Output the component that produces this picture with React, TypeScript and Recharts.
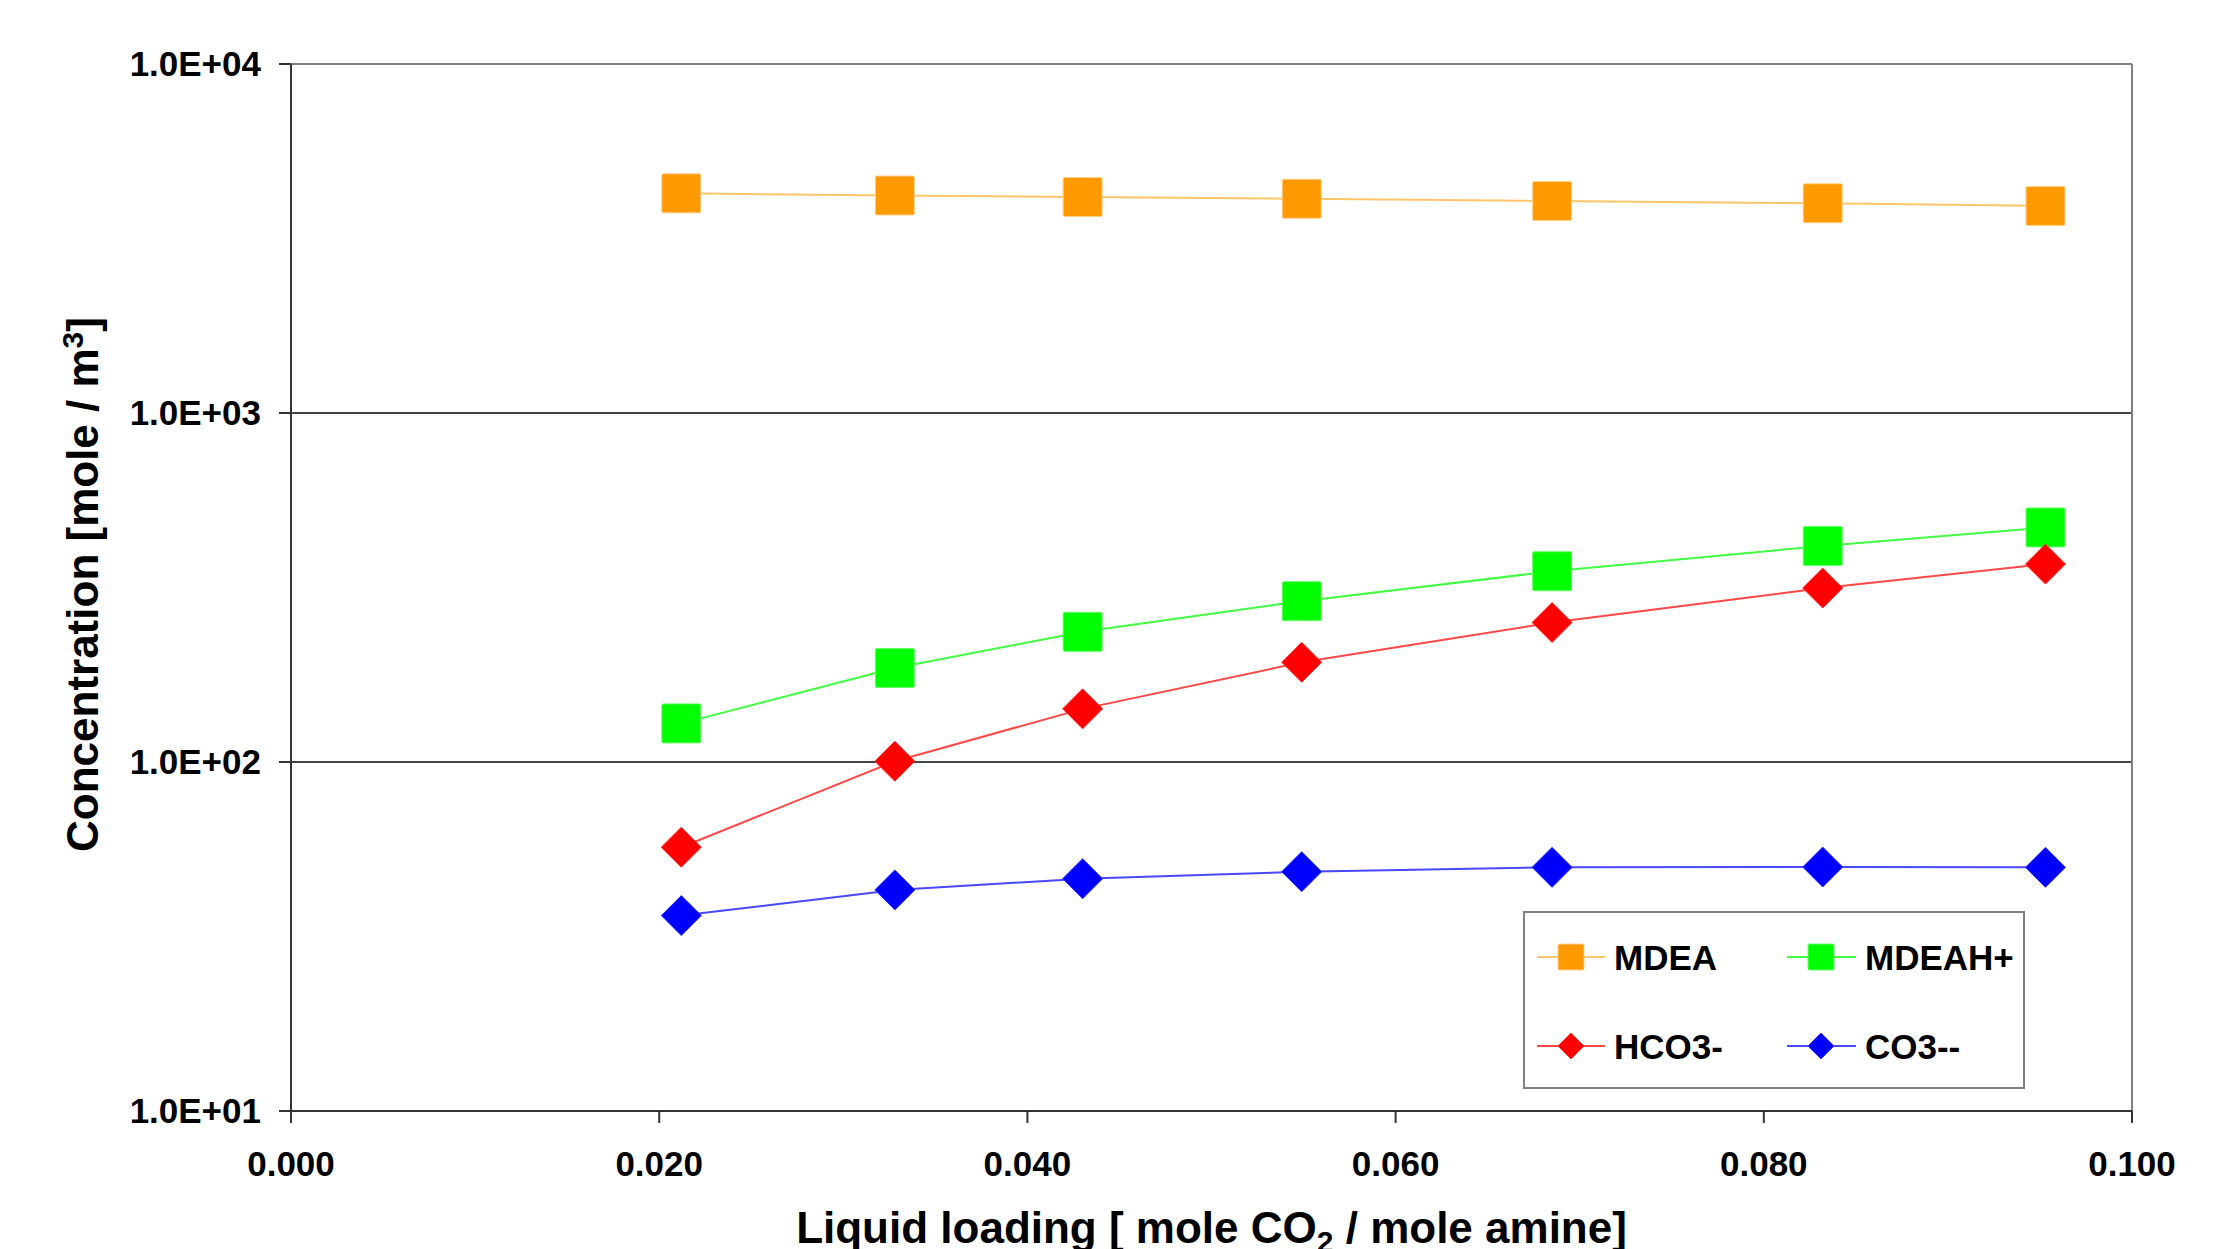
import React from "react";
import { LineChart, Line, XAxis, YAxis, ReferenceLine, Legend } from "recharts";

const loading = [0.0212, 0.0328, 0.043, 0.0549, 0.0685, 0.0832, 0.0953];
const mdea = [4260, 4200, 4160, 4110, 4050, 3990, 3920];
const mdeah = [129, 186, 236, 289, 352, 416, 470];
const hco3 = [57, 100.5, 142, 193, 251, 315, 369];
const co3 = [36.3, 43.0, 46.3, 48.5, 49.9, 50.0, 49.9];

const xTicks = [0, 0.02, 0.04, 0.06, 0.08, 0.1];
const yTicks = [10, 100, 1000, 10000];

const data = loading.map((x, i) => ({
  x,
  mdea: mdea[i],
  mdeah: mdeah[i],
  hco3: hco3[i],
  co3: co3[i],
}));

type Series = {
  key: string;
  name: string;
  line: string;
  fill: string;
  edge: string;
  shape: "square" | "diamond";
};

const series: Series[] = [
  { key: "mdea", name: "MDEA", line: "#FFC56A", fill: "#FF9900", edge: "#FFD08A", shape: "square" },
  { key: "mdeah", name: "MDEAH+", line: "#40FF40", fill: "#00FF00", edge: "#66FF66", shape: "square" },
  { key: "hco3", name: "HCO3-", line: "#FF4848", fill: "#FF0000", edge: "#FF3030", shape: "diamond" },
  { key: "co3", name: "CO3--", line: "#4848FF", fill: "#0000FF", edge: "#3030FF", shape: "diamond" },
];

const FONT = "'Liberation Sans', Arial, Helvetica, sans-serif";

function Marker({ cx, cy, s, size }: { cx: number; cy: number; s: Series; size: number }) {
  const h = size / 2;
  if (s.shape === "square") {
    return (
      <rect x={cx - h} y={cy - h} width={size} height={size} rx={1.5} fill={s.fill} stroke={s.edge} strokeWidth={1} />
    );
  }
  return (
    <polygon
      points={`${cx},${cy - h} ${cx + h},${cy} ${cx},${cy + h} ${cx - h},${cy}`}
      fill={s.fill}
      stroke={s.edge}
      strokeWidth={1}
    />
  );
}

const fmtY = (v: number) => {
  const e = Math.round(Math.log10(v));
  return `1.0E+${e < 10 ? "0" + e : e}`;
};

const LegendBox = () => {
  const rows = [46, 135];
  const cols = [{ l0: 14, l1: 82, m: 48, t: 91 }, { l0: 264, l1: 333, m: 298, t: 342 }];
  return (
    <svg width={502} height={178} style={{ display: "block" }}>
      <rect x={1} y={1} width={500} height={176} fill="#fff" stroke="#808080" strokeWidth={2} />
      {series.map((s, i) => {
        const r = rows[Math.floor(i / 2)];
        const c = cols[i % 2];
        return (
          <g key={s.key}>
            <line x1={c.l0} x2={c.l1} y1={r} y2={r} stroke={s.line} strokeWidth={2} />
            <Marker cx={c.m} cy={r} s={s} size={26} />
            <text x={c.t} y={r + 13} fontFamily={FONT} fontWeight="bold" fontSize={35} fill="#000">
              {s.name}
            </text>
          </g>
        );
      })}
    </svg>
  );
};

const XTitle = (props: any) => {
  const vb = props.viewBox || {};
  const cx = vb.x + vb.width / 2;
  const y = vb.y + 132;
  return (
    <text x={cx} y={y} textAnchor="middle" fontFamily={FONT} fontWeight="bold" fontSize={44} fill="#000">
      Liquid loading [ mole CO
      <tspan dy={9} fontSize={30}>2</tspan>
      <tspan dy={-9}> / mole amine]</tspan>
    </text>
  );
};

const YTitle = (props: any) => {
  const vb = props.viewBox || {};
  const x = vb.x + 98;
  const y = vb.y + vb.height / 2 - 3;
  return (
    <text
      x={x}
      y={y}
      textAnchor="middle"
      transform={`rotate(-90, ${x}, ${y})`}
      fontFamily={FONT}
      fontWeight="bold"
      fontSize={44}
      fill="#000"
    >
      Concentration [mole / m
      <tspan dy={-15} fontSize={30}>3</tspan>
      <tspan dy={15}>]</tspan>
    </text>
  );
};

export default function App() {
  return (
    <div style={{ position: "absolute", left: 0, top: 0, width: 2220, height: 1249, background: "#fff", overflow: "hidden" }}>
      <LineChart
        width={2220}
        height={1249}
        data={data}
        margin={{ top: 64, right: 88, bottom: 0, left: 0 }}
        style={{ fontFamily: FONT }}
      >
        <XAxis
          dataKey="x"
          type="number"
          domain={[0, 0.1]}
          ticks={xTicks}
          tickFormatter={(v: number) => v.toFixed(3)}
          height={138}
          tickSize={12}
          tickMargin={28}
          axisLine={{ stroke: "#333", strokeWidth: 2 }}
          tickLine={{ stroke: "#333", strokeWidth: 2 }}
          tick={{ fill: "#000", fontSize: 35, fontWeight: "bold", fontFamily: FONT }}
          label={<XTitle />}
          allowDataOverflow
        />
        <YAxis
          type="number"
          scale="log"
          domain={[10, 10000]}
          ticks={yTicks}
          tickFormatter={fmtY}
          width={291}
          tickSize={12}
          tickMargin={18}
          axisLine={{ stroke: "#333", strokeWidth: 2 }}
          tickLine={{ stroke: "#333", strokeWidth: 2 }}
          tick={{ fill: "#000", fontSize: 35, fontWeight: "bold", fontFamily: FONT }}
          label={<YTitle />}
          allowDataOverflow
        />
        <ReferenceLine y={100} stroke="#444" strokeWidth={2} />
        <ReferenceLine y={1000} stroke="#444" strokeWidth={2} />
        <ReferenceLine y={10000} stroke="#808080" strokeWidth={2} />
        <ReferenceLine x={0.1} stroke="#808080" strokeWidth={2} />
        {series.map((s) => (
          <Line
            key={s.key}
            dataKey={s.key}
            name={s.name}
            type="linear"
            stroke={s.line}
            strokeWidth={2}
            isAnimationActive={false}
            legendType="none"
            dot={(p: any) => (
              <Marker key={`${s.key}-${p.index}`} cx={p.cx} cy={p.cy} s={s} size={s.shape === "square" ? 39 : 40} />
            )}
            activeDot={false}
          />
        ))}
        <Legend
          layout="horizontal"
          verticalAlign="middle"
          align="center"
          content={() => <LegendBox />}
          wrapperStyle={{ position: "absolute", left: 1523, top: 911, width: 502, height: 178 }}
        />
      </LineChart>
    </div>
  );
}
